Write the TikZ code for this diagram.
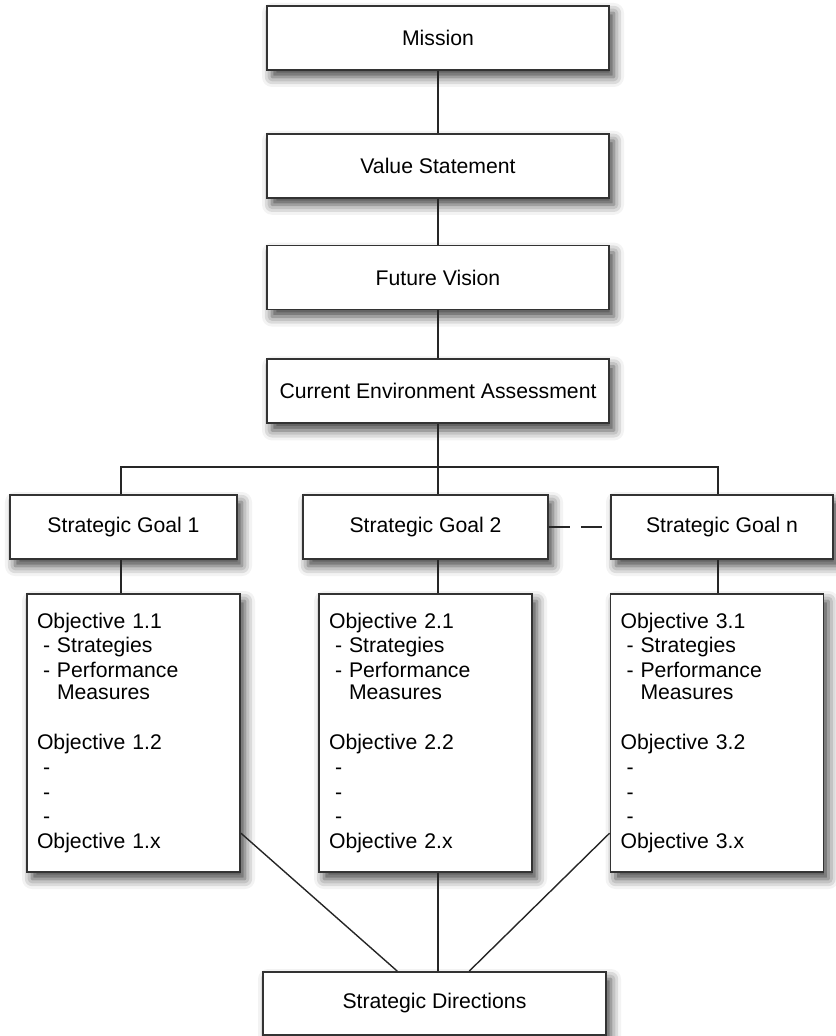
\documentclass[tikz,border=0pt]{standalone}
\usepackage{fontspec}
\setmainfont{Liberation Sans}
\usetikzlibrary{positioning, shadows.blur}

\newcommand{\objdash}[1]{\hspace*{3pt}\makebox[7pt][l]{-}#1}

\begin{document}
\begin{tikzpicture}[x=0.5pt, y=-0.5pt, node distance=24pt]
    % Styles
    \tikzstyle{block} = [rectangle, draw=black!80, line width=0.9pt, fill=white,
        minimum height=32pt, inner sep=0pt, font=\fontsize{10.6}{12.4}\selectfont,
        blur shadow={shadow xshift=2.5pt, shadow yshift=-3.5pt, shadow blur radius=5pt, shadow opacity=75}]
    \tikzstyle{topblock} = [block, minimum width=171pt]
    \tikzstyle{objblock} = [block, text width=96.5pt, inner xsep=5pt, minimum height=139pt, align=left]
    \tikzstyle{line} = [line width=0.7pt, black!85]

    \useasboundingbox (0,0) rectangle (835,1036);

    % Nodes
    \node [topblock] at (438,38) (mission) {Mission};
    \node [topblock, below=31pt of mission] (value) {Value Statement};
    \node [topblock, below=23pt of value] (vision) {Future Vision};
    \node [topblock, below=24pt of vision] (cea) {Current Environment Assessment};

    \node [block, minimum width=113.5pt] at (123.5,527) (goal1) {Strategic Goal 1};
    \node [block, minimum width=122.5pt] at (425.5,527) (goal2) {Strategic Goal 2};
    \node [block, minimum width=111pt] at (722,527) (goaln) {Strategic Goal n};

    \node [objblock] at (133.5,733) (obj1) {Objective 1.1\\ \objdash{Strategies}\\ \objdash{Performance}\\[-1.5pt]
        \hspace*{10pt}Measures\\[12.6pt] Objective 1.2\\ \objdash{}\\ \objdash{}\\ \objdash{}\\ Objective 1.x\\[-1pt]};
    \node [objblock] at (425.5,733) (obj2) {Objective 2.1\\ \objdash{Strategies}\\ \objdash{Performance}\\[-1.5pt]
        \hspace*{10pt}Measures\\[12.6pt] Objective 2.2\\ \objdash{}\\ \objdash{}\\ \objdash{}\\ Objective 2.x\\[-1pt]};
    \node [objblock] at (717,733) (obj3) {Objective 3.1\\ \objdash{Strategies}\\ \objdash{Performance}\\[-1.5pt]
        \hspace*{10pt}Measures\\[12.6pt] Objective 3.2\\ \objdash{}\\ \objdash{}\\ \objdash{}\\ Objective 3.x\\[-1pt]};

    \node [block, minimum width=171.5pt, minimum height=31.5pt] at (434.5,1003.5) (sd) {Strategic Directions};

    % Lines
    \coordinate (busl) at (121,467);
    \coordinate (busr) at (718,467);
    \draw [line] (mission) -- (value);
    \draw [line] (value) -- (vision);
    \draw [line] (vision) -- (cea);
    \draw [line] (cea) -- (cea |- busl);
    \draw [line] (busl |- goal1.north) -- (busl) -- (busr) -- (busr |- goaln.north);
    \draw [line] (cea |- busl) -- (cea |- goal2.north);
    \draw [line] (busl |- goal1.south) -- (busl |- obj1.north);
    \draw [line] (cea |- goal2.south) -- (cea |- obj2.north);
    \draw [line] (busr |- goaln.south) -- (busr |- obj3.north);
    \draw [line, dash pattern=on 10.5pt off 5.5pt] (goal2.east) -- (goaln.west);
    \draw [line] (obj1.-43) -- (sd.139);
    \draw [line] (cea |- obj2.south) -- (cea |- sd.north);
    \draw [line] (obj3.223) -- (sd.43);
\end{tikzpicture}
\end{document}
